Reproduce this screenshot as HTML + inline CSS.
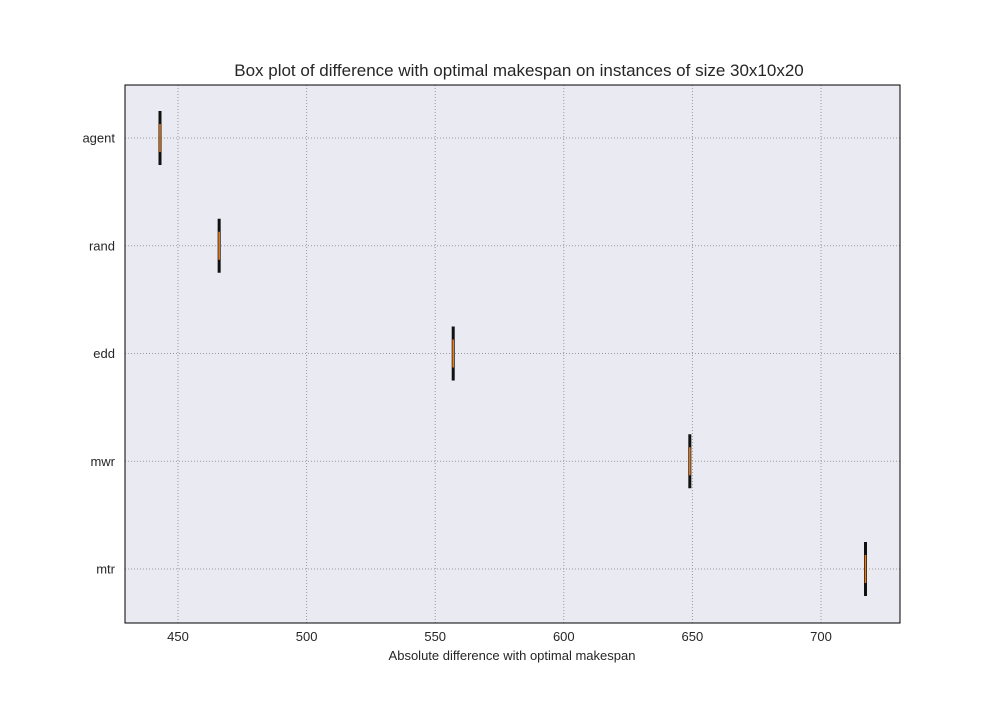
<!DOCTYPE html>
<html><head><meta charset="utf-8"><style>
body{margin:0;background:#fff;}
svg text{font-family:"Liberation Sans","DejaVu Sans",sans-serif;fill:#262626;}
</style></head><body>
<svg id="chart" width="1000" height="700">
<rect x="125" y="85" width="775" height="538" fill="#eaeaf2"/>
<g id="grid"></g>
<g id="marks"></g>
<rect x="125" y="85" width="775" height="538" fill="none" stroke="#000" stroke-width="1"/>
<g id="ticks"></g>
<text x="519" y="76" text-anchor="middle" font-size="17">Box plot of difference with optimal makespan on instances of size 30x10x20</text>
<text x="512" y="660" text-anchor="middle" font-size="13">Absolute difference with optimal makespan</text>
</svg>
<script>
const categories=["agent","rand","edd","mwr","mtr"];
const values=[443,466,557,649,717.3];
const xTicks=[450,500,550,600,650,700];
const ns="http://www.w3.org/2000/svg";
function x(v){return 178+(v-450)*2.572;}
function y(i){return 138+i*107.75;}
function mk(tag,attrs,parent){const e=document.createElementNS(ns,tag);for(const k in attrs)e.setAttribute(k,attrs[k]);document.getElementById(parent).appendChild(e);return e;}
xTicks.forEach(t=>{
  const g=mk('line',{x1:x(t),x2:x(t),y1:85,y2:623,stroke:'#999','stroke-width':1,'stroke-dasharray':'1,2'},'grid');
  
  
  const l=mk('text',{x:x(t),y:641,'text-anchor':'middle','font-size':13},'ticks');
  l.textContent=t;
  
  
});
categories.forEach((c,i)=>{
  const g=mk('line',{x1:125,x2:900,y1:y(i),y2:y(i),stroke:'#999','stroke-width':1,'stroke-dasharray':'1,2'},'grid');
  
  
  const l=mk('text',{x:115,y:y(i)+4.5,'text-anchor':'end','font-size':13},'ticks');
  l.textContent=c;
  
  
  const b=mk('line',{x1:x(values[i]),x2:x(values[i]),y1:y(i)-27,y2:y(i)+27,stroke:'#111','stroke-width':3},'marks');
  
  
  const m=mk('line',{x1:x(values[i]),x2:x(values[i]),y1:y(i)-14,y2:y(i)+14,stroke:'#e87a1e','stroke-width':1.6},'marks');
  
  
});
</script>
</body></html>
